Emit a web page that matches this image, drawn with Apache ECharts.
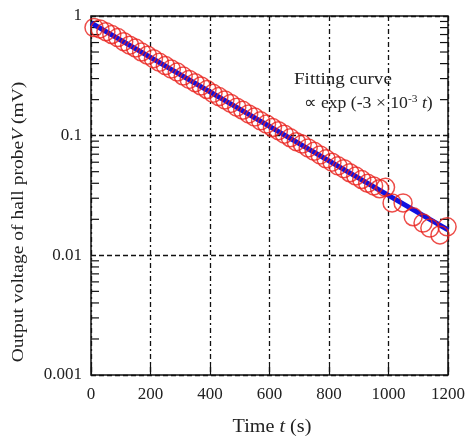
<!DOCTYPE html>
<html><head><meta charset="utf-8">
<script src="https://cdn.jsdelivr.net/npm/echarts@6/dist/echarts.min.js"></script>
<style>html,body{margin:0;padding:0;background:#fff}#c{width:469px;height:440px}</style>
</head><body><div id="c"></div>
<script>
// Measured data: time (s) and hall-probe output voltage (mV)
var times = [10,30,50,70,90,110,130,150,170,190,210,230,250,270,290,310,330,350,370,390,
  410,430,450,470,490,510,530,550,570,590,610,630,650,670,690,710,730,750,770,790,
  810,830,850,870,890,910,930,950,970,990,1012,1049,1083,1116,1139,1173,1197];
var voltages = [0.80,0.78,0.74,0.70,0.66,0.61,0.57,0.54,0.50,0.47,0.44,0.41,0.385,0.36,0.34,0.315,0.295,0.277,0.26,0.243,
  0.226,0.212,0.199,0.186,0.173,0.163,0.152,0.143,0.133,0.125,0.117,0.110,0.103,0.096,0.089,0.085,0.079,0.074,0.069,0.064,
  0.060,0.056,0.053,0.049,0.046,0.043,0.040,0.038,0.036,0.037,0.0274,0.0274,0.021,0.0186,0.0169,0.0148,0.0173];
// Fitting curve endpoints (straight line on log axis)
var fitTimes = [0, 1200];
var fitValues = [0.875, 0.0163];
// Axis ticks
var xTicks = [0,200,400,600,800,1000,1200];
var yTicks = [0.001,0.01,0.1,1];

var minorVals = [];
for (var d = 0.001; d < 1; d *= 10) { for (var m = 2; m <= 9; m++) minorVals.push(+(m*d).toPrecision(3)); }

var serif = 'Liberation Serif, Times New Roman, serif';
var chart = echarts.init(document.getElementById('c'), null, {renderer:'canvas'});
chart.setOption({
  animation:false,
  backgroundColor:'#fff',
  grid:{left:91,right:21,top:16,bottom:65,show:true,borderColor:'#111',borderWidth:1.5,backgroundColor:'transparent'},
  xAxis:{type:'value',min:0,max:1200,interval:200,
    axisLine:{show:false},
    axisTick:{inside:true,length:11,lineStyle:{color:'#111',width:1.2}},
    axisLabel:{fontFamily:serif,fontSize:17,color:'#222',margin:11,
      formatter:function(v){return String(v);}},
    splitLine:{show:true,lineStyle:{color:'#111',width:1.3,type:[5,3,2,3]}}},
  yAxis:{type:'log',logBase:10,min:0.001,max:1,
    axisLine:{show:false},
    axisTick:{show:false},
    axisLabel:{fontFamily:serif,fontSize:17,color:'#222',margin:9,
      formatter:function(v){return yTicks.indexOf(+v.toPrecision(3))>=0?String(+v.toPrecision(3)):'';}},
    splitLine:{show:true,lineStyle:{color:'#111',width:1.3,type:[5,3]}}},
  graphic:[
    {type:'text',x:19,y:222,rotation:Math.PI/2,scaleX:1.15,style:{
      text:'{n|Output voltage of hall probe}{i|V}{n| (mV)}',align:'center',verticalAlign:'middle',
      rich:{n:{fontFamily:serif,fontSize:17,fill:'#222'},i:{fontFamily:serif,fontSize:17,fontStyle:'italic',fill:'#222'}}}},
    {type:'text',x:272,y:427,scaleX:1.12,style:{
      text:'{n|Time }{i|t}{n| (s)}',align:'center',verticalAlign:'middle',
      rich:{n:{fontFamily:serif,fontSize:18,fill:'#222'},i:{fontFamily:serif,fontSize:18,fontStyle:'italic',fill:'#222'}}}},
    {type:'text',x:294,y:80,scaleX:1.12,style:{text:'Fitting curve',fontFamily:serif,fontSize:17,fill:'#222',verticalAlign:'middle'}},
    {type:'text',x:304,y:104,scaleX:1.04,style:{
      text:'{n|\u221D exp (-3 \u00D7 10}{s|-3}{n| }{i|t}{n|)}',verticalAlign:'middle',
      rich:{n:{fontFamily:serif,fontSize:17,fill:'#222'},s:{fontFamily:serif,fontSize:11,fill:'#222',verticalAlign:'top',padding:[0,0,9,0]},i:{fontFamily:serif,fontSize:17,fontStyle:'italic',fill:'#222'}}}}
  ],
  series:[
    {type:'custom',silent:true,z:1,
      data:minorVals.map(function(v){return [0,v];}),
      renderItem:function(params,api){
        var v=api.value(1);
        var l=api.coord([0,v]), r=api.coord([1200,v]);
        var st={stroke:'#111',lineWidth:1.2};
        return {type:'group',children:[
          {type:'line',shape:{x1:l[0],y1:l[1],x2:l[0]+8,y2:l[1]},style:st},
          {type:'line',shape:{x1:r[0],y1:r[1],x2:r[0]-8,y2:r[1]},style:st}]};
      }},
    {type:'line',z:2,symbol:'none',data:fitTimes.map(function(t,i){return [t,fitValues[i]];}),
      lineStyle:{color:'#1010e0',width:5}},
    {type:'scatter',z:3,symbol:'circle',symbolSize:18,
      data:times.map(function(t,i){return [t,voltages[i]];}),
      itemStyle:{color:'rgba(0,0,0,0)',borderColor:'#e8201c',borderWidth:1.5}}
  ]
});
</script></body></html>
